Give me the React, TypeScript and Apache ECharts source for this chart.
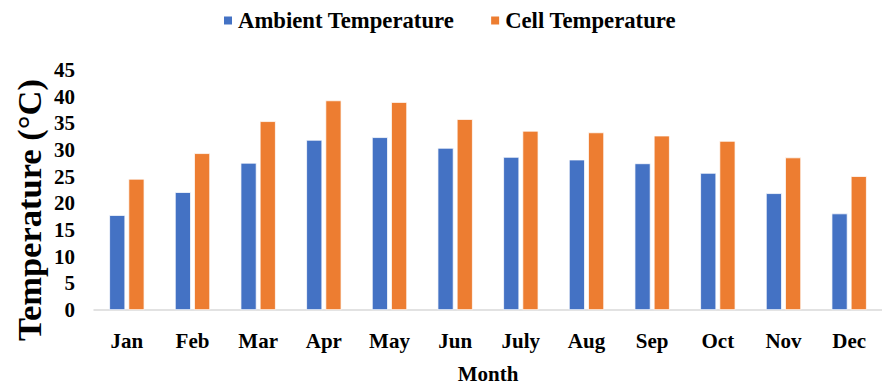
import React, { useEffect, useRef } from "react";
import * as echarts from "echarts";

const months = ["Jan", "Feb", "Mar", "Apr", "May", "Jun", "July", "Aug", "Sep", "Oct", "Nov", "Dec"];
const ambientTemp = [17.8, 22.1, 27.6, 31.9, 32.4, 30.4, 28.7, 28.2, 27.5, 25.7, 21.9, 18.1];
const cellTemp = [24.6, 29.4, 35.4, 39.3, 39.0, 35.8, 33.6, 33.3, 32.7, 31.7, 28.6, 25.1];
const seriesNames = ["Ambient Temperature", "Cell Temperature"];
const yTitle = "Temperature (°C)";
const xTitle = "Month";

const FONT = '"Liberation Serif", "Times New Roman", serif';

export default function App() {
  const ref = useRef<HTMLDivElement>(null);
  useEffect(() => {
    document.body.style.margin = "0";
    document.body.style.overflow = "hidden";
    if (!ref.current) return;
    const chart = echarts.init(ref.current, undefined, { renderer: "svg" });
    chart.setOption({
      animation: false,
      backgroundColor: "#ffffff",
      textStyle: { fontFamily: FONT },
      legend: {
        data: seriesNames,
        left: 217,
        top: 4,
        itemWidth: 10,
        itemHeight: 10,
        itemGap: 35,
        icon: "rect",
        textStyle: { fontFamily: FONT, fontWeight: "bold", fontSize: 22.7, color: "#000" },
      },
      graphic: [
        {
          type: "text",
          x: 29,
          y: 210,
          rotation: Math.PI / 2,
          style: {
            text: yTitle,
            fontFamily: FONT,
            fontWeight: "bold",
            fontSize: 34.5,
            fill: "#000",
            align: "center",
            verticalAlign: "middle",
          },
        },
      ],
      grid: { left: 94, right: 0, top: 70, bottom: 72 },
      xAxis: {
        type: "category",
        data: months,
        name: xTitle,
        nameLocation: "middle",
        nameGap: 53,
        nameTextStyle: { fontFamily: FONT, fontWeight: "bold", fontSize: 21, color: "#000" },
        axisLine: { show: true, lineStyle: { color: "#d9d9d9", width: 1.5 } },
        axisTick: { show: false },
        axisLabel: { margin: 20, fontFamily: FONT, fontWeight: "bold", fontSize: 21, color: "#000" },
      },
      yAxis: {
        type: "value",
        min: 0,
        max: 45,
        interval: 5,
        axisLine: { show: false },
        axisTick: { show: false },
        splitLine: { show: false },
        axisLabel: {
          margin: 19,
          padding: [5, 0, 0, 0],
          fontFamily: FONT,
          fontWeight: "bold",
          fontSize: 21,
          color: "#000",
        },
      },
      series: [
        {
          name: seriesNames[0],
          type: "bar",
          data: ambientTemp,
          barWidth: 16,
          barGap: "20%",
          itemStyle: { color: "#4472C4", borderColor: "#ffffff", borderWidth: 0.75 },
        },
        {
          name: seriesNames[1],
          type: "bar",
          data: cellTemp,
          barWidth: 16,
          itemStyle: { color: "#ED7D31", borderColor: "#ffffff", borderWidth: 0.75 },
        },
      ],
    });
    return () => chart.dispose();
  }, []);
  return <div ref={ref} style={{ width: 882, height: 389 }} />;
}
